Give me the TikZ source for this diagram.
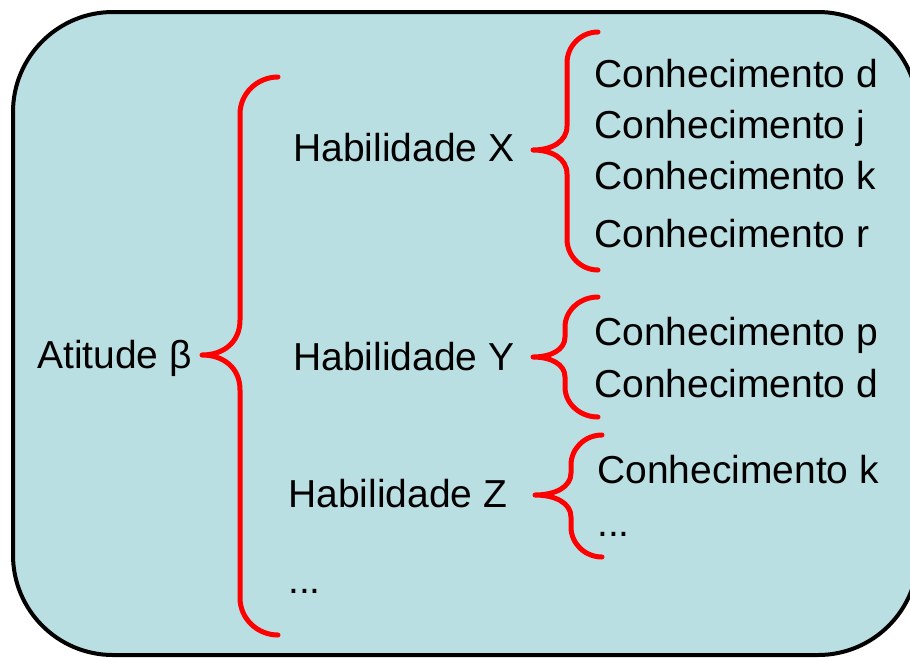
\documentclass[tikz,border=0pt]{standalone}
\usepackage{fontspec}
\setmainfont{Liberation Sans}
\definecolor{panelfill}{RGB}{186,223,226}
\definecolor{bracered}{RGB}{255,0,0}

% Red curly brace opening to the right.
% #1 tip x, #2 tip y, #3 spine x, #4 end x, #5 top y, #6 bottom y,
% #7 end-bend radius, #8 tip-bend height
\newcommand\curlybrace[8]{%
  \draw[bracestroke]
    (#4,#5) .. controls (#4-0.55*#4+0.55*#3,#5) and (#3,#5+0.45*#7) .. (#3,#5+#7)
    -- (#3,#2-#8)
    .. controls (#3,#2-0.35*#8) and (#1+0.55*#3-0.55*#1,#2) .. (#1,#2)
    .. controls (#1+0.55*#3-0.55*#1,#2) and (#3,#2+0.35*#8) .. (#3,#2+#8)
    -- (#3,#6-#7)
    .. controls (#3,#6-0.45*#7) and (#4-0.55*#4+0.55*#3,#6) .. (#4,#6);
}

\begin{document}
\begin{tikzpicture}[x=1pt,y=-1pt,
  txt/.style={anchor=base west, inner sep=0pt, font=\fontsize{39}{45}\selectfont},
  bracestroke/.style={draw=bracered, line width=5pt, line cap=round, line join=round}]
\useasboundingbox (0,0) rectangle (910,657);

% background panel, running past the right and bottom edges
\begin{scope}
  \clip (0,0) rectangle (910,657);
  \draw[line width=4pt, fill=panelfill, rounded corners=100pt] (13,12) rectangle (918,655);
\end{scope}

% texts
\node[txt] (att) at (37,368) {Atitude β};
\node[txt] (habx) at (293,161) {Habilidade X};
\node[txt] (haby) at (293,370) {Habilidade Y};
\node[txt] (habz) at (288,507) {Habilidade Z};
\node[txt] (habmore) at (288,593) {...};

\node[txt] (cx1) at (594,87) {Conhecimento d};
\node[txt] (cx2) at (594,138) {Conhecimento j};
\node[txt] (cx3) at (594,189) {Conhecimento k};
\node[txt] (cx4) at (594,247) {Conhecimento r};

\node[txt] (cy1) at (594,345) {Conhecimento p};
\node[txt] (cy2) at (594,397) {Conhecimento d};

\node[txt] (cz1) at (597,483) {Conhecimento k};
\node[txt] (czmore) at (597,536) {...};

% braces
\curlybrace{202}{355}{240}{278}{77}{635}{37}{35}
\curlybrace{533}{150}{567}{598}{32}{270}{31}{24}
\curlybrace{533}{357}{565}{598}{297}{417}{30}{20}
\curlybrace{535}{495}{571}{602}{435}{557}{30}{22}
\end{tikzpicture}
\end{document}
